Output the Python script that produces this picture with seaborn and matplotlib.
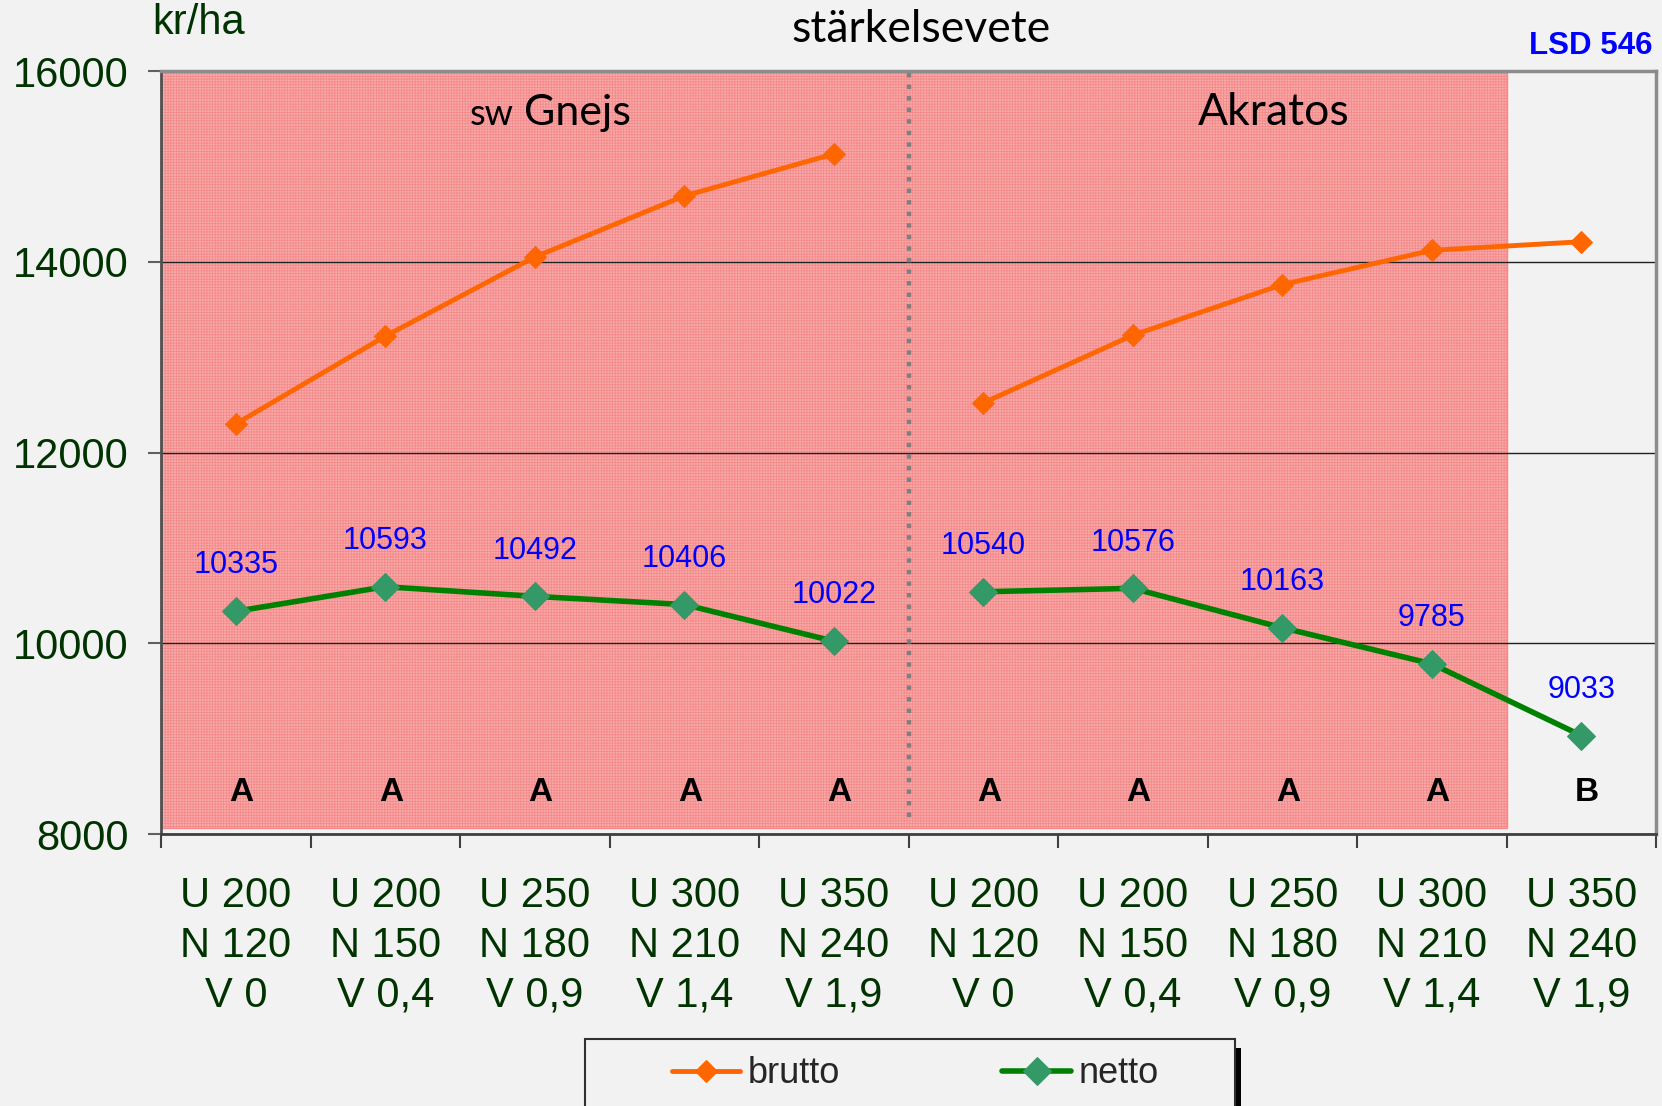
import numpy as np
import pandas as pd
import matplotlib
matplotlib.use("Agg")
import matplotlib.pyplot as plt
import seaborn as sns
from matplotlib.patches import Rectangle
from matplotlib.ticker import FixedLocator

# values
tick_labels = ["U 200\nN 120\nV 0", "U 200\nN 150\nV 0,4", "U 250\nN 180\nV 0,9",
               "U 300\nN 210\nV 1,4", "U 350\nN 240\nV 1,9"] * 2
brutto = [12300, 13220, 14050, 14690, 15130, 12520, 13230, 13760, 14120, 14210]
netto = [10335, 10593, 10492, 10406, 10022, 10540, 10576, 10163, 9785, 9033]
groups = ["A", "A", "A", "A", "A", "A", "A", "A", "A", "B"]
varieties = ["Gnejs", "Akratos"]
lsd = 546

n = len(tick_labels)
per_var = n // len(varieties)
df = pd.DataFrame({"pos": np.arange(n), "brutto": brutto, "netto": netto,
                   "group": groups, "variety": np.repeat(varieties, per_var)})

sns.set_theme(style="white")
plt.rcParams["font.family"] = ["Liberation Sans", "DejaVu Sans"]
plt.rcParams["hatch.linewidth"] = 0.6

bg = "#F2F2F2"
dkgreen = "#003300"
calibri_like = ["Lato", "DejaVu Sans"]
fig = plt.figure(figsize=(16.62, 11.06), dpi=100, facecolor=bg)
ax = fig.add_axes([0.0969, 0.2459, 0.8995, 0.6899], facecolor=bg)

last_a = df.loc[df["group"] == "A", "pos"].max()

# pink area = same statistical group
ax.axvspan(-0.5, last_a + 0.5, ymin=0.008, ymax=1, facecolor="#F9AAAA",
           edgecolor="#F48A8A", hatch="++++++", zorder=0)

sns.lineplot(data=df, x="pos", y="brutto", units="variety", estimator=None,
             ax=ax, color="#FF6600", lw=3.5, marker="D", markersize=11,
             markeredgecolor="#FF6600", zorder=3)
line_b = ax.lines[-1]
sns.lineplot(data=df, x="pos", y="netto", units="variety", estimator=None,
             ax=ax, color="#008000", lw=4, marker="D", markersize=14,
             markerfacecolor="#339966", markeredgecolor="#339966", zorder=3)
line_n = ax.lines[-1]

# divider between varieties
ax.axvline(per_var - 0.5, ymin=0.022, ymax=1, color="#7F7F7F", lw=3.2,
           ls=(0, (1, 1.6)), zorder=2)

for x, v in zip(df["pos"], df["netto"]):
    ax.annotate(str(v), (x, v), xytext=(0, 33), textcoords="offset points",
                ha="center", va="center", fontsize=22, color="#0000FF")
for x, g in zip(df["pos"], df["group"]):
    ax.annotate(g, (x, 0.055), xycoords=("data", "axes fraction"),
                xytext=(4, 0), textcoords="offset points", ha="center",
                va="center", fontsize=24, fontweight="bold", color="black")

ax.text(1.93, 15434, varieties[0], ha="left", va="baseline", fontsize=31,
        family=calibri_like, color="black")
ax.text(1.86, 15434, "sw", ha="right", va="baseline", fontsize=26,
        family=calibri_like, color="black")
ax.text(6.94, 15434, varieties[1], ha="center", va="baseline", fontsize=32,
        family=calibri_like, color="black")

ax.set_xlim(-0.5, n - 0.5)
ax.set_ylim(8000, 16000)
ax.set_yticks(np.arange(8000, 16001, 2000))
ax.set_xticks(df["pos"])
ax.set_xticklabels(tick_labels, linespacing=1.32)
ax.xaxis.set_minor_locator(FixedLocator(np.arange(n + 1) - 0.5))
ax.set_xlabel("")
ax.set_ylabel("")

ax.tick_params(axis="x", which="major", length=0, pad=30, labelsize=30,
               labelcolor=dkgreen)
ax.tick_params(axis="x", which="minor", length=10, width=1.5,
               color="#404040", direction="out", bottom=True)
ax.tick_params(axis="y", length=9.5, width=1.5, color="#606060",
               direction="out", left=True, pad=14, labelsize=30,
               labelcolor=dkgreen)

ax.yaxis.grid(True, color="#202020", lw=1)
ax.set_axisbelow(True)

for side, c, w in [("top", "#8C8C8C", 2.5), ("right", "#8C8C8C", 2.5),
                   ("left", "#505050", 2), ("bottom", "#404040", 2)]:
    ax.spines[side].set_color(c)
    ax.spines[side].set_linewidth(w)

fig.text(0.0915, 0.979, "kr/ha", ha="left", va="center", fontsize=30,
         color=dkgreen)
fig.text(0.554, 0.973, "stärkelsevete", ha="center", va="center",
         fontsize=32, family=calibri_like, color="black")
fig.text(0.994, 0.958, f"LSD {lsd}", ha="right", va="center", fontsize=22.5,
         fontweight="bold", color="#0000FF")

# legend box with shadow
fig.patches.append(Rectangle((0.352 + 6 / 1662, -0.03), 0.391, 0.0826,
                             transform=fig.transFigure, facecolor="black",
                             edgecolor="none", zorder=1))
fig.patches.append(Rectangle((0.352, -0.02), 0.391, 0.0806,
                             transform=fig.transFigure, facecolor=bg,
                             edgecolor="#303030", lw=1.5, zorder=2))
fig.legend([line_b, line_n], ["brutto", "netto"], loc="center",
           bbox_to_anchor=(0.5506, 0.029), ncol=2, frameon=False,
           fontsize=26, handlelength=1.9, handletextpad=0.2,
           columnspacing=4.5)

fig.savefig("out.png", dpi=100, facecolor=fig.get_facecolor())
